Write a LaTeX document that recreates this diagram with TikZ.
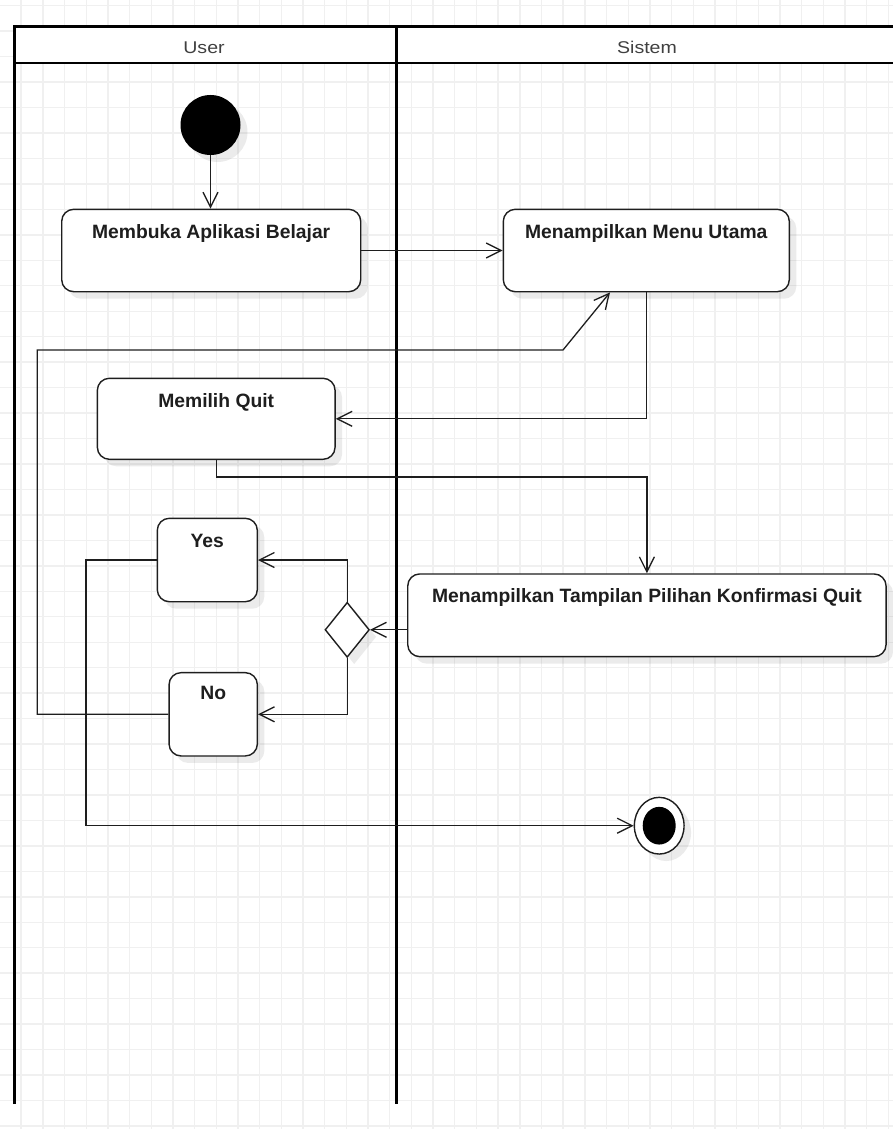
\documentclass[tikz,border=0pt]{standalone}
\usepackage{fontspec}
\setmainfont{Liberation Sans}
\usetikzlibrary{shapes.geometric, arrows.meta, calc, shadows}

\definecolor{gridline}{HTML}{F0F0F0}
\definecolor{ink}{HTML}{1E1E1E}

\begin{document}
\begin{tikzpicture}[x=1pt, y=-1pt,
  shade box/.style={drop shadow={shadow xshift=7pt, shadow yshift=-7pt, fill=black, opacity=0.08}},
  act/.style={draw=ink, line width=1.4pt, rounded corners=12pt, fill=white, inner sep=0pt, shade box},
  lbl/.style={anchor=base, inner sep=0pt, text=ink, font=\fontsize{19.3}{23}\selectfont\bfseries},
  head/.style={anchor=base, inner sep=0pt, text=ink!85, font=\fontsize{17}{20}\selectfont},
  flow/.style={draw=ink, line width=1.3pt, -{Straight Barb[length=15pt, width=15pt, line width=1.3pt]}},
  lane/.style={draw=black, line width=3pt},
]
% canvas and background grid
\useasboundingbox (0,0) rectangle (893,1129);
\fill[white] (0,0) rectangle (893,1129);
\foreach \i in {0,...,41}
  \draw[gridline, line width=1.4pt] ({21.68*\i-0.5},0) -- ({21.68*\i-0.5},1129);
\foreach \j in {0,...,44}
  \draw[gridline, line width=1.4pt] (0,{5.7+25.46*\j}) -- (893,{5.7+25.46*\j});

% swimlanes
\fill[white] (14,26.7) rectangle (893,63.3);
\draw[lane, line join=miter] (14,1104) -- (14,26.7) -- (893,26.7);
\draw[draw=black, line width=2pt] (14,63.3) -- (893,63.3);
\draw[lane] (396,26.7) -- (396,1104);
\node[head] (userhead) at (204,53.3) {\scalebox{1.15}[1]{User}};
\node[head] (sistemhead) at (647,53.3) {\scalebox{1.15}[1]{Sistem}};

% nodes
\node[circle, fill=black, minimum size=60pt, inner sep=0pt, shade box] (start) at (210.5,125) {};
\node[act, minimum width=299pt, minimum height=82.4pt] (membuka) at (211.2,250.5) {};
\node[act, minimum width=286pt, minimum height=82.4pt] (menu) at (646.3,250.5) {};
\node[act, minimum width=237.7pt, minimum height=81pt] (memilih) at (216.2,418.8) {};
\node[act, minimum width=478.3pt, minimum height=82.7pt] (konf) at (646.9,615.3) {};
\node[act, minimum width=100pt, minimum height=83.4pt] (yes) at (207.3,560) {};
\node[act, minimum width=88.3pt, minimum height=83.3pt] (no) at (213.2,714.3) {};
\node[diamond, draw=ink, line width=1.4pt, fill=white, inner sep=0pt,
      minimum width=44.3pt, minimum height=55pt, shade box] (dec) at (347.2,629.8) {};
\node[ellipse, draw=ink, line width=1.4pt, fill=white, inner sep=0pt,
      minimum width=49.7pt, minimum height=56.7pt, shade box] (endring) at (659.2,825.7) {};
\node[ellipse, fill=black, inner sep=0pt, minimum width=33pt, minimum height=37.7pt] (enddot) at (endring.center) {};

% node texts, set near the top of each action
\node[lbl] (tmembuka) at ($(membuka.north)+(0,30)$) {Membuka Aplikasi Belajar};
\node[lbl] (tmenu) at ($(menu.north)+(0,30)$) {Menampilkan Menu Utama};
\node[lbl] (tmemilih) at ($(memilih.north)+(0,29.4)$) {Memilih Quit};
\node[lbl] (tkonf) at ($(konf.north)+(0,29.4)$) {Menampilkan Tampilan Pilihan Konfirmasi Quit};
\node[lbl] (tyes) at ($(yes.north)+(0,29.4)$) {Yes};
\node[lbl] (tno) at ($(no.north)+(0,28)$) {No};

% bend points
\coordinate (backA) at (37.3,350);
\coordinate (backB) at (563,350);
\coordinate (downA) at (86,825.7);

% connectors
\draw[flow] (start.south) -- (start.south |- membuka.north);
\draw[flow] (membuka.east) -- (menu.west);
\draw[flow] (menu.south) |- (memilih.east);
\draw[flow] (memilih.south) -- ++(0,17) -| (konf.north);
\draw[flow] (konf.west |- dec.east) -- (dec.east);
\draw[flow] (dec.north) |- (yes.east);
\draw[flow] (dec.south) |- (no.east);
\draw[flow] (no.west) -| (backA) -- (backB) -- ($(menu.south)+(-36.3,0)$);
\draw[flow] (yes.west) -| (downA) -- (endring.west);
\end{tikzpicture}
\end{document}
